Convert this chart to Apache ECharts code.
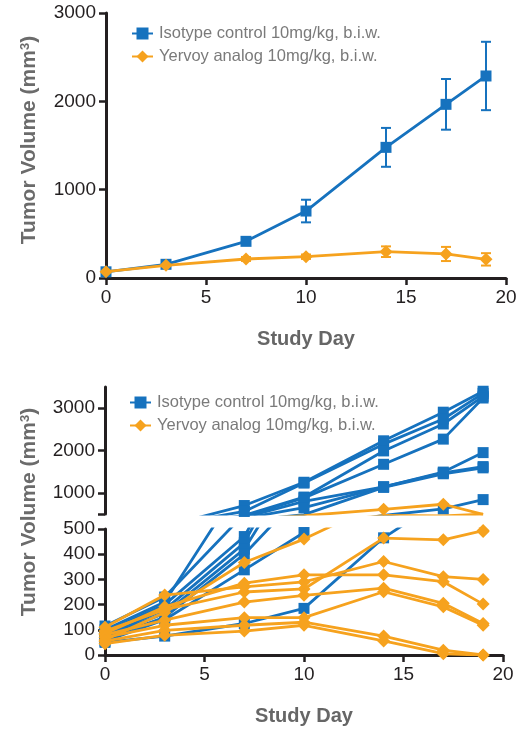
<!DOCTYPE html>
<html>
<head>
<meta charset="utf-8">
<script src="https://cdn.jsdelivr.net/npm/echarts@6/dist/echarts.min.js"></script>
<style>
  html, body { margin: 0; padding: 0; background: #fff; }
  #chart { width: 523px; height: 730px; }
</style>
</head>
<body>
<div id="chart"></div>
<script>
// measurement days
const days = [0, 3, 7, 10, 14, 17, 19];

// top panel: group mean ± SEM
const isoMean = [70, 155, 415, 758, 1479, 1966, 2287];
const isoSem  = [10, 18, 30, 128, 220, 287, 387];
const yerMean = [72, 144, 215, 241, 298, 272, 211];
const yerSem  = [8, 14, 22, 25, 60, 80, 70];

// bottom panel: individual animals (one array per mouse)
const isoAnimals = [
  [100, 210, 700, 1250, 2229, 2905, 3400],
  [115, 230, 560, 1230, 2150, 2745, 3350],
  [90, 200, 470, 900, 1990, 2626, 3280],
  [80, 180, 445, 880, 1674, 2269, 3240],
  [75, 165, 420, 800, 1143, 1490, 1950],
  [65, 150, 400, 650, 1140, 1470, 1620],
  [55, 140, 338, 486, 1130, 1450, 1590],
  [50, 75, 125, 185, 465, 620, 840]
];
const yerAnimals = [
  [60, 169, 367, 460, 610, 730, 490],
  [95, 180, 250, 262, 464, 457, 494],
  [110, 238, 270, 290, 371, 311, 300],
  [85, 191, 285, 318, 318, 291, 202],
  [80, 138, 210, 237, 265, 205, 125],
  [70, 118, 148, 148, 251, 191, 118],
  [55, 98, 118, 130, 75, 19, 0],
  [45, 78, 95, 118, 56, 5, 0]
];

// axis tick values
const xTicks = { min: 0, max: 20, interval: 5 };
const upperTicks = [1000, 2000, 3000];

const ISO = 'Isotype control 10mg/kg, b.i.w.';
const YER = 'Yervoy analog 10mg/kg, b.i.w.';
const BLUE = '#1672be';
const ORANGE = '#f6a21e';
const INK = '#231f20';
const FONT = '"Liberation Sans", Arial, sans-serif';

const pts = vals => days.map((d, i) => [d, vals[i]]);

function lineSeries(name, color, vals, xi, yi, isIso) {
  return {
    type: 'line', name, xAxisIndex: xi, yAxisIndex: yi,
    data: pts(vals),
    symbol: isIso ? 'rect' : 'diamond',
    symbolSize: isIso ? 11 : 13,
    itemStyle: { color },
    lineStyle: { color, width: 2.8 },
    clip: true,
    emphasis: { disabled: true },
    z: isIso ? 2 : 3
  };
}

function errSeries(color, mean, sem) {
  return {
    type: 'custom', name: 'err', xAxisIndex: 0, yAxisIndex: 0, z: 1,
    data: days.map((d, i) => [d, mean[i] - sem[i], mean[i] + sem[i]]),
    encode: { x: 0, y: [1, 2] },
    renderItem: (params, api) => {
      const lo = api.coord([api.value(0), api.value(1)]);
      const hi = api.coord([api.value(0), api.value(2)]);
      const w = 5;
      const st = { stroke: color, lineWidth: 2 };
      return {
        type: 'group', children: [
          { type: 'line', shape: { x1: lo[0], y1: lo[1], x2: hi[0], y2: hi[1] }, style: st },
          { type: 'line', shape: { x1: lo[0] - w, y1: lo[1], x2: lo[0] + w, y2: lo[1] }, style: st },
          { type: 'line', shape: { x1: hi[0] - w, y1: hi[1], x2: hi[0] + w, y2: hi[1] }, style: st }
        ]
      };
    }
  };
}

const plain = v => String(v);
const labelLook = { color: INK, fontSize: 19, margin: 10, fontFamily: FONT, formatter: plain };
const tickLook = { show: true, length: 7, lineStyle: { color: INK, width: 2.5 } };
const axisLook = {
  axisLine: { show: true, onZero: false, lineStyle: { color: INK, width: 3 } },
  axisTick: tickLook,
  axisLabel: labelLook,
  splitLine: { show: false }
};
const xName = {
  name: 'Study Day', nameLocation: 'middle', nameGap: 51,
  nameTextStyle: { color: '#666', fontSize: 20, fontWeight: 'bold', fontFamily: FONT }
};

const legendLook = {
  orient: 'vertical', itemWidth: 21, itemHeight: 15, itemGap: 6,
  data: [ISO, YER],
  selectedMode: false,
  textStyle: { color: '#7a7a7a', fontSize: 16.5, fontFamily: FONT, padding: [0, 0, 0, 1] }
};

function yTitle(cy) {
  return {
    type: 'text', x: 29, y: cy, rotation: Math.PI / 2,
    style: {
      text: 'Tumor Volume (mm{s|3})',
      fontFamily: FONT, fontSize: 21, fontWeight: 'bold', fill: '#6b6b6b',
      align: 'center', verticalAlign: 'middle',
      rich: { s: { fontSize: 13, fontWeight: 'bold', fontFamily: FONT, fill: '#6b6b6b', verticalAlign: 'top' } }
    }
  };
}

const series = [
  errSeries(BLUE, isoMean, isoSem),
  errSeries(ORANGE, yerMean, yerSem),
  lineSeries(ISO, BLUE, isoMean, 0, 0, true),
  lineSeries(YER, ORANGE, yerMean, 0, 0, false)
];
isoAnimals.forEach(a => {
  series.push(lineSeries(ISO, BLUE, a, 1, 1, true));
  series.push(lineSeries(ISO, BLUE, a, 2, 2, true));
});
yerAnimals.forEach(a => {
  series.push(lineSeries(YER, ORANGE, a, 1, 1, false));
  series.push(lineSeries(YER, ORANGE, a, 2, 2, false));
});

const chart = echarts.init(document.getElementById('chart'), null, { renderer: 'canvas' });
chart.setOption({
  animation: false,
  backgroundColor: '#fff',
  textStyle: { fontFamily: FONT },
  grid: [
    { left: 106, right: 17, top: 13, height: 265 },
    { left: 105, right: 20, top: 387, height: 127 },
    { left: 105, right: 20, top: 529, height: 126 }
  ],
  legend: [
    Object.assign({ left: 126, top: 20 }, legendLook),
    Object.assign({ left: 124, top: 389 }, legendLook)
  ],
  xAxis: [
    Object.assign({ gridIndex: 0, type: 'value' }, xTicks, axisLook, xName),
    Object.assign({ gridIndex: 1, type: 'value', show: false }, xTicks),
    Object.assign({ gridIndex: 2, type: 'value' }, xTicks, axisLook, xName)
  ],
  yAxis: [
    Object.assign({ gridIndex: 0, type: 'value', min: 0, max: 3000, interval: 1000 }, axisLook),
    Object.assign({ gridIndex: 1, type: 'value', min: 500, max: 3500 }, axisLook, {
      axisTick: Object.assign({ customValues: [500].concat(upperTicks) }, tickLook),
      axisLabel: Object.assign({ customValues: upperTicks }, labelLook)
    }),
    Object.assign({ gridIndex: 2, type: 'value', min: 0, max: 500, interval: 100 }, axisLook)
  ],
  graphic: [yTitle(140), yTitle(512)],
  series
});
</script>
</body>
</html>
